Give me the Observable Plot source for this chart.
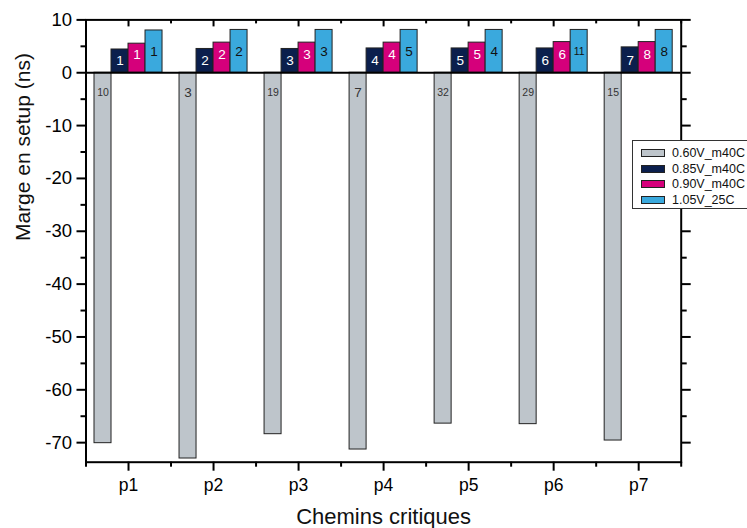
<!DOCTYPE html>
<html>
<head>
<meta charset="utf-8">
<script src="https://cdn.jsdelivr.net/npm/d3@7"></script>
<script src="https://cdn.jsdelivr.net/npm/@observablehq/plot@0.6"></script>
<style>
  body { margin: 0; background: #fff; font-family: "Liberation Sans", Arial, sans-serif; }
  #wrap { position: relative; width: 747px; height: 528px; overflow: hidden; }
  #legend { position: absolute; left: 632px; top: 140px; width: 130px; height: 69px;
            background: #fff; border: 1px solid #333; box-sizing: border-box; }
  .row { position: absolute; left: 8px; height: 16px; display: flex; align-items: center; }
  .sw { width: 24px; height: 8px; border: 1px solid #222; box-sizing: border-box; margin-right: 7px; }
  .lbl { font-size: 12.5px; color: #111; white-space: nowrap; }
</style>
</head>
<body>
<div id="wrap"></div>
<script>
const categories = ["p1", "p2", "p3", "p4", "p5", "p6", "p7"];
const seriesNames = ["0.60V_m40C", "0.85V_m40C", "0.90V_m40C", "1.05V_25C"];
const seriesColors = ["#bec5cb", "#0b1f4d", "#d5007b", "#3aa9dd"];
const labelColors = ["#333", "#fff", "#fff", "#111"];
const v060 = [-70.1, -73.0, -68.4, -71.3, -66.4, -66.5, -69.6];
const v085 = [4.4, 4.5, 4.5, 4.6, 4.6, 4.6, 4.8];
const v090 = [5.5, 5.7, 5.7, 5.7, 5.7, 5.8, 5.8];
const v105 = [8.0, 8.1, 8.1, 8.1, 8.1, 8.1, 8.1];
const l060 = ["10", "3", "19", "7", "32", "29", "15"];
const l085 = ["1", "2", "3", "4", "5", "6", "7"];
const l090 = ["1", "2", "3", "4", "5", "6", "8"];
const l105 = ["1", "2", "3", "5", "4", "11", "8"];
const yMajor = [-70, -60, -50, -40, -30, -20, -10, 0, 10];
const yMinor = [-65, -55, -45, -35, -25, -15, -5, 5];

const values = [v060, v085, v090, v105];
const labels = [l060, l085, l090, l105];
const data = [];
categories.forEach((c, i) => {
  values.forEach((vs, j) => data.push({i, j, v: vs[i], label: labels[j][i]}));
});
const centers = categories.map((c, i) => i + 0.5);
const bounds = d3.range(0, categories.length + 1);
const labelDy = [20, -12, -18, -21];

const labelMarks = seriesNames.map((s, j) => Plot.text(data.filter(d => d.j === j), {
  x: d => d.i + 0.2 + 0.2 * d.j,
  y: 0,
  text: d => d.label,
  dy: labelDy[j],
  fill: labelColors[j],
  fontSize: d => d.label.length > 1 ? 10.5 : 13.5
}));

const chart = Plot.plot({
  width: 747,
  height: 528,
  marginLeft: 85.5,
  marginRight: 66.3,
  marginTop: 19.4,
  marginBottom: 66.3,
  style: {fontFamily: "'Liberation Sans', Arial, sans-serif", background: "#fff", color: "#000"},
  x: {type: "linear", domain: [0, categories.length]},
  y: {domain: [-73.7, 10]},
  marks: [
    Plot.rectY(data, {
      x1: d => d.i + 0.1 + 0.2 * d.j,
      x2: d => d.i + 0.3 + 0.2 * d.j,
      y1: 0,
      y2: d => d.v,
      fill: d => seriesColors[d.j],
      stroke: "#222",
      strokeWidth: 1
    }),
    Plot.ruleY([0], {stroke: "#000", strokeWidth: 2}),
    Plot.frame({stroke: "#000", strokeWidth: 2}),
    // bottom axis
    Plot.axisX({anchor: "bottom", ticks: centers, tickFormat: d => categories[Math.floor(d)],
      tickSize: 9, tickPadding: 7, fontSize: 17.5, strokeWidth: 2, label: null}),
    Plot.axisX({anchor: "bottom", ticks: bounds, tickFormat: () => "", tickSize: 5, strokeWidth: 2, label: null}),
    // top ticks (inward)
    Plot.ruleX(centers, {x: d => d, y1: 10, y2: 10, insetBottom: -7, stroke: "#000", strokeWidth: 2}),
    Plot.ruleX(bounds, {x: d => d, y1: 10, y2: 10, insetBottom: -4, stroke: "#000", strokeWidth: 2}),
    // left axis
    Plot.axisY({anchor: "left", ticks: yMajor, tickFormat: d => String(d), tickSize: 9, tickPadding: 5, fontSize: 18.5, strokeWidth: 2, label: null}),
    Plot.axisY({anchor: "left", ticks: yMinor, tickFormat: () => "", tickSize: 5, strokeWidth: 2, label: null}),
    // right axis
    Plot.axisY({anchor: "right", ticks: yMajor, tickFormat: () => "", tickSize: 9, strokeWidth: 2, label: null}),
    Plot.axisY({anchor: "right", ticks: yMinor, tickFormat: () => "", tickSize: 5, strokeWidth: 2, label: null}),
    ...labelMarks,
    // titles
    Plot.text(["Marge en setup (ns)"], {frameAnchor: "left", rotate: -90, dx: -63, fontSize: 21, fill: "#111"}),
    Plot.text(["Chemins critiques"], {frameAnchor: "bottom", dy: 62, fontSize: 22, fill: "#111"})
  ]
});
const wrap = document.getElementById("wrap");
wrap.appendChild(chart);

// legend
const legend = document.createElement("div");
legend.id = "legend";
seriesNames.forEach((name, j) => {
  const row = document.createElement("div");
  row.className = "row";
  row.style.top = (4 + j * 15.7) + "px";
  const sw = document.createElement("div");
  sw.className = "sw";
  sw.style.background = seriesColors[j];
  const lb = document.createElement("span");
  lb.className = "lbl";
  lb.textContent = name;
  row.appendChild(sw);
  row.appendChild(lb);
  legend.appendChild(row);
});
wrap.appendChild(legend);
</script>
</body>
</html>
